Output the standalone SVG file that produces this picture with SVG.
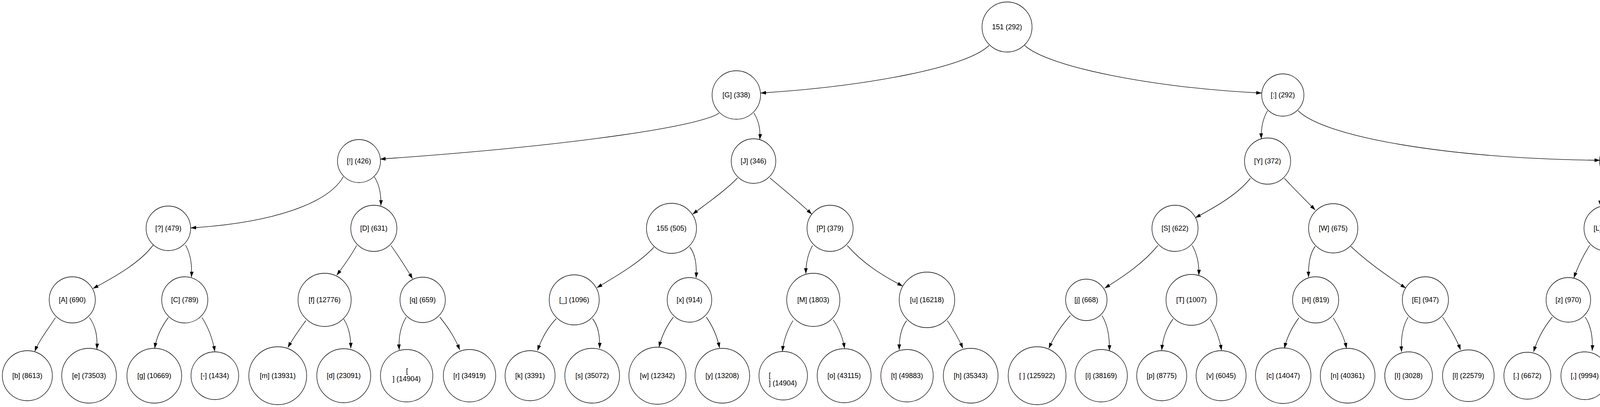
<svg xmlns="http://www.w3.org/2000/svg" width="4586" height="1041" viewBox="0 0 4586 1041">
<style>
.node ellipse{fill:none;stroke:#000;stroke-width:1.3}
.node text{font-family:"Liberation Sans",Arial,sans-serif;font-size:18px;text-anchor:middle;fill:#000}
.node text.left{text-anchor:start}
.edges path{fill:none;stroke:#000;stroke-width:1.3;marker-end:url(#arr)}
</style>
<defs>
<marker id="arr" markerUnits="userSpaceOnUse" markerWidth="14" markerHeight="10" refX="14" refY="5" orient="auto" viewBox="0 0 14 10"><path d="M0,0.3 L14,5 L0,9.7 z" fill="#000"/></marker>
</defs>
<rect width="4586" height="1041" fill="#fff"/>
<g class="edges">
<path d="M2532,116 C2480,170 2230,220 1947,238"/>
<path d="M2623,116 C2680,170 2950,225 3230,238"/>
<path d="M1841,289 C1800,320 1500,370 973,407"/>
<path d="M1930,289 C1943,310 1947,335 1945,357"/>
<path d="M3245,283 C3232,305 3228,330 3229,355"/>
<path d="M3323,283 C3390,350 3700,405 4096,410"/>
<path d="M879,452 C840,520 700,570 488,583"/>
<path d="M958,452 C970,470 976,495 975,526"/>
<path d="M1888,455 C1860,485 1810,520 1773,548"/>
<path d="M1971,455 C2000,480 2050,520 2078,548"/>
<path d="M3201,456 C3170,495 3120,525 3060,557"/>
<path d="M3288,456 C3310,480 3345,515 3367,537"/>
<path d="M4113,456 C4099,475 4096,500 4097,527"/>
<path d="M4200,456 C4240,500 4300,530 4349,557"/>
<path d="M392,627 C360,670 300,705 238,738"/>
<path d="M475,627 C488,650 492,680 490,709"/>
<path d="M913,628 C898,655 880,680 862,704"/>
<path d="M1001,628 C1020,655 1040,685 1056,713"/>
<path d="M1674,632 C1640,670 1580,705 1528,736"/>
<path d="M1766,632 C1780,650 1784,680 1782,711"/>
<path d="M2080,628 C2068,650 2063,675 2063,700"/>
<path d="M2169,628 C2210,675 2260,705 2311,732"/>
<path d="M2964,628 C2930,670 2880,705 2828,737"/>
<path d="M3052,628 C3065,650 3070,675 3069,704"/>
<path d="M3367,630 C3352,650 3349,680 3350,709"/>
<path d="M3458,630 C3500,670 3550,705 3599,737"/>
<path d="M4070,627 C4055,650 4040,680 4029,711"/>
<path d="M4155,627 C4172,650 4185,675 4195,702"/>
<path d="M4362,630 C4348,650 4345,675 4345,704"/>
<path d="M4455,630 C4475,655 4488,680 4496,704"/>
<path d="M142,812 C125,840 100,870 89,899"/>
<path d="M229,812 C245,835 250,860 248,893"/>
<path d="M431,812 C410,840 400,865 396,891"/>
<path d="M517,812 C535,840 545,870 550,899"/>
<path d="M783,820 C765,845 750,865 737,889"/>
<path d="M880,816 C895,840 898,865 898,891"/>
<path d="M1040,811 C1025,835 1020,865 1022,895"/>
<path d="M1126,811 C1150,841 1165,865 1177,895"/>
<path d="M1424,815 C1400,840 1385,870 1376,897"/>
<path d="M1517,815 C1532,835 1536,860 1535,891"/>
<path d="M1724,811 C1705,835 1694,860 1687,888"/>
<path d="M1808,811 C1825,835 1836,860 1842,890"/>
<path d="M2030,820 C2015,845 2006,870 2003,899"/>
<path d="M2133,818 C2148,840 2158,865 2162,891"/>
<path d="M2321,820 C2306,840 2302,865 2302,895"/>
<path d="M2425,820 C2442,845 2456,870 2465,891"/>
<path d="M2740,807 C2715,835 2696,865 2685,891"/>
<path d="M2821,807 C2835,830 2841,860 2840,897"/>
<path d="M3003,816 C2985,840 2977,865 2974,896"/>
<path d="M3098,816 C3112,840 3122,865 3127,896"/>
<path d="M3325,813 C3305,840 3294,865 3288,891"/>
<path d="M3413,813 C3430,840 3442,865 3447,891"/>
<path d="M3605,811 C3590,835 3586,865 3588,900"/>
<path d="M3693,811 C3712,840 3728,865 3739,895"/>
<path d="M3974,811 C3950,840 3935,870 3926,900"/>
<path d="M4058,811 C4074,835 4078,865 4076,897"/>
<path d="M4162,816 C4150,840 4152,870 4164,905"/>
<path d="M4257,816 C4285,850 4315,882 4337,913"/>
</g>
<g id="n151" class="node"><ellipse cx="2578" cy="69" rx="64" ry="64"/><text x="2578" y="75">151 (292)</text></g>
<g id="nG" class="node"><ellipse cx="1885" cy="243" rx="62" ry="62"/><text x="1885" y="249">[G] (338)</text></g>
<g id="nColon" class="node"><ellipse cx="3284" cy="243" rx="54" ry="54"/><text x="3284" y="249">[:] (292)</text></g>
<g id="nExcl" class="node"><ellipse cx="919" cy="412" rx="55" ry="55"/><text x="919" y="418">[!] (426)</text></g>
<g id="nJ" class="node"><ellipse cx="1929" cy="412" rx="57" ry="57"/><text x="1929" y="418">[J] (346)</text></g>
<g id="nY" class="node"><ellipse cx="3245" cy="412" rx="59" ry="59"/><text x="3245" y="418">[Y] (372)</text></g>
<g id="nN" class="node"><ellipse cx="4155" cy="412" rx="60" ry="60"/><text x="4155" y="418">[N] (325)</text></g>
<g id="nQuestion" class="node"><ellipse cx="431" cy="584" rx="57" ry="57"/><text x="431" y="590">[?] (479)</text></g>
<g id="nD" class="node"><ellipse cx="957" cy="584" rx="59" ry="59"/><text x="957" y="590">[D] (631)</text></g>
<g id="n155" class="node"><ellipse cx="1719" cy="584" rx="64" ry="64"/><text x="1719" y="590">155 (505)</text></g>
<g id="nP" class="node"><ellipse cx="2125" cy="584" rx="59" ry="59"/><text x="2125" y="590">[P] (379)</text></g>
<g id="nS" class="node"><ellipse cx="3008" cy="584" rx="59" ry="59"/><text x="3008" y="590">[S] (622)</text></g>
<g id="nW" class="node"><ellipse cx="3413" cy="584" rx="63" ry="63"/><text x="3413" y="590">[W] (675)</text></g>
<g id="nL" class="node"><ellipse cx="4113" cy="584" rx="58" ry="58"/><text x="4113" y="590">[L] (895)</text></g>
<g id="n152" class="node"><ellipse cx="4409" cy="584" rx="64" ry="64"/><text x="4409" y="590">152 (378)</text></g>
<g id="nA" class="node"><ellipse cx="185" cy="767" rx="59" ry="59"/><text x="185" y="773">[A] (690)</text></g>
<g id="nC" class="node"><ellipse cx="473" cy="767" rx="59" ry="59"/><text x="473" y="773">[C] (789)</text></g>
<g id="nf" class="node"><ellipse cx="831" cy="767" rx="68" ry="68"/><text x="831" y="773">[f] (12776)</text></g>
<g id="nq" class="node"><ellipse cx="1082" cy="767" rx="58" ry="58"/><text x="1082" y="773">[q] (659)</text></g>
<g id="nUnderscore" class="node"><ellipse cx="1470" cy="767" rx="64" ry="64"/><text x="1470" y="773">[_] (1096)</text></g>
<g id="nx" class="node"><ellipse cx="1765" cy="767" rx="57" ry="57"/><text x="1765" y="773">[x] (914)</text></g>
<g id="nM" class="node"><ellipse cx="2082" cy="767" rx="68" ry="68"/><text x="2082" y="773">[M] (1803)</text></g>
<g id="nu" class="node"><ellipse cx="2373" cy="767" rx="71" ry="71"/><text x="2373" y="773">[u] (16218)</text></g>
<g id="nj" class="node"><ellipse cx="2781" cy="767" rx="53" ry="53"/><text x="2781" y="773">[j] (668)</text></g>
<g id="nT" class="node"><ellipse cx="3050" cy="767" rx="65" ry="65"/><text x="3050" y="773">[T] (1007)</text></g>
<g id="nH" class="node"><ellipse cx="3368" cy="767" rx="59" ry="59"/><text x="3368" y="773">[H] (819)</text></g>
<g id="nE" class="node"><ellipse cx="3649" cy="767" rx="59" ry="59"/><text x="3649" y="773">[E] (947)</text></g>
<g id="nz" class="node"><ellipse cx="4015" cy="767" rx="57" ry="57"/><text x="4015" y="773">[z] (970)</text></g>
<g id="nB" class="node"><ellipse cx="4210" cy="767" rx="65" ry="65"/><text x="4210" y="773">[B] (1151)</text></g>
<g id="n154" class="node"><ellipse cx="4364" cy="767" rx="64" ry="64"/><text x="4364" y="773">154 (443)</text></g>
<g id="n153" class="node"><ellipse cx="4516" cy="767" rx="64" ry="64"/><text x="4516" y="773">153 (400)</text></g>
<g id="nb" class="node"><ellipse cx="70" cy="961" rx="64" ry="64"/><text x="70" y="967">[b] (8613)</text></g>
<g id="ne" class="node"><ellipse cx="228" cy="961" rx="70" ry="70"/><text x="228" y="967">[e] (73503)</text></g>
<g id="ng" class="node"><ellipse cx="395" cy="961" rx="70" ry="70"/><text x="395" y="967">[g] (10669)</text></g>
<g id="nDash" class="node"><ellipse cx="550" cy="961" rx="61" ry="61"/><text x="550" y="967">[-] (1434)</text></g>
<g id="nm" class="node"><ellipse cx="711" cy="961" rx="74" ry="74"/><text x="711" y="967">[m] (13931)</text></g>
<g id="nd" class="node"><ellipse cx="880" cy="961" rx="69" ry="69"/><text x="880" y="967">[d] (23091)</text></g>
<g id="nNewline1" class="node"><ellipse cx="1041" cy="961" rx="67" ry="67"/><text x="1042" y="955">[</text><text x="1041" y="975">] (14904)</text></g>
<g id="nr" class="node"><ellipse cx="1202" cy="961" rx="67" ry="67"/><text x="1202" y="967">[r] (34919)</text></g>
<g id="nk" class="node"><ellipse cx="1357" cy="961" rx="64" ry="64"/><text x="1357" y="967">[k] (3391)</text></g>
<g id="ns" class="node"><ellipse cx="1516" cy="961" rx="70" ry="70"/><text x="1516" y="967">[s] (35072)</text></g>
<g id="nw" class="node"><ellipse cx="1683" cy="961" rx="73" ry="73"/><text x="1683" y="967">[w] (12342)</text></g>
<g id="ny" class="node"><ellipse cx="1849" cy="961" rx="70" ry="70"/><text x="1849" y="967">[y] (13208)</text></g>
<g id="nNewline2" class="node"><ellipse cx="2005" cy="961" rx="62" ry="62"/><text class="left" x="1968" y="966">[</text><text class="left" x="1968" y="986">] (14904)</text></g>
<g id="no" class="node"><ellipse cx="2161" cy="961" rx="69" ry="69"/><text x="2161" y="967">[o] (43115)</text></g>
<g id="nt" class="node"><ellipse cx="2322" cy="961" rx="67" ry="67"/><text x="2322" y="967">[t] (49883)</text></g>
<g id="nh" class="node"><ellipse cx="2485" cy="961" rx="70" ry="70"/><text x="2485" y="967">[h] (35343)</text></g>
<g id="nSpace" class="node"><ellipse cx="2655" cy="961" rx="74" ry="74"/><text x="2655" y="967" xml:space="preserve">[ ] (125922)</text></g>
<g id="ni" class="node"><ellipse cx="2819" cy="961" rx="67" ry="67"/><text x="2819" y="967">[i] (38169)</text></g>
<g id="np" class="node"><ellipse cx="2974" cy="961" rx="64" ry="64"/><text x="2974" y="967">[p] (8775)</text></g>
<g id="nv" class="node"><ellipse cx="3126" cy="961" rx="64" ry="64"/><text x="3126" y="967">[v] (6045)</text></g>
<g id="nc" class="node"><ellipse cx="3285" cy="961" rx="71" ry="71"/><text x="3285" y="967">[c] (14047)</text></g>
<g id="nn" class="node"><ellipse cx="3450" cy="961" rx="70" ry="70"/><text x="3450" y="967">[n] (40361)</text></g>
<g id="nI" class="node"><ellipse cx="3606" cy="961" rx="61" ry="61"/><text x="3606" y="967">[I] (3028)</text></g>
<g id="nl" class="node"><ellipse cx="3759" cy="961" rx="66" ry="66"/><text x="3759" y="967">[l] (22579)</text></g>
<g id="nDot" class="node"><ellipse cx="3910" cy="961" rx="60" ry="60"/><text x="3910" y="967">[.] (6672)</text></g>
<g id="nComma" class="node"><ellipse cx="4057" cy="961" rx="61" ry="61"/><text x="4057" y="967">[,] (9994)</text></g>
<g id="na" class="node"><ellipse cx="4213" cy="961" rx="70" ry="70"/><text x="4213" y="967">[a] (44145)</text></g>
<g id="nSemicolon" class="node"><ellipse cx="4373" cy="961" rx="60" ry="60"/><text x="4373" y="967">[;] (1704)</text></g>
</svg>
